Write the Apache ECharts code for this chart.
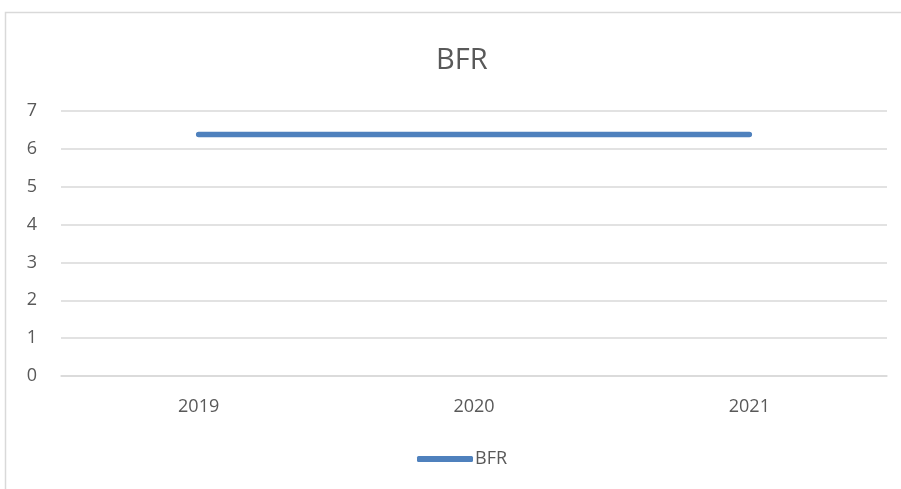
<!DOCTYPE html>
<html>
<head>
<meta charset="utf-8">
<script src="https://cdn.jsdelivr.net/npm/echarts@6/dist/echarts.min.js"></script>
<style>
  html, body { margin: 0; padding: 0; background: #fff; }
  #chart { width: 901px; height: 489px; }
</style>
</head>
<body>
<div id="chart"></div>
<script>
// Years on the category axis
const years = ['2019', '2020', '2021'];
// BFR value per year
const bfrValues = [6.38, 6.38, 6.38];
const seriesName = 'BFR';
const titleText = 'BFR';

const textColor = '#595959';
const gridColor = '#d9d9d9';
const lineColor = '#4f81bd';
const fontFamily = '"Open Sans", "Noto Sans", sans-serif';

const chart = echarts.init(document.getElementById('chart'), null, { renderer: 'canvas' });

chart.setOption({
  animation: false,
  backgroundColor: '#ffffff',
  title: {
    text: titleText,
    left: 431,
    top: 41,
    textStyle: { color: textColor, fontSize: 29, fontWeight: 'normal', fontFamily: fontFamily }
  },
  graphic: [{
    type: 'rect',
    shape: { x: 5.5, y: 12.5, width: 1200, height: 1200 },
    style: { fill: 'none', stroke: gridColor, lineWidth: 1.5 },
    silent: true,
    z: -1
  }],
  legend: {
    data: [seriesName],
    bottom: 16,
    left: 412,
    itemWidth: 56,
    itemHeight: 6,
    itemGap: 4,
    icon: 'roundRect',
    textStyle: { color: textColor, fontSize: 18, fontFamily: fontFamily, padding: [0, 0, 0, -3] }
  },
  grid: { left: 61, right: 14, top: 111, bottom: 113 },
  xAxis: {
    type: 'category',
    data: years,
    boundaryGap: true,
    axisLine: { show: true, lineStyle: { color: gridColor, width: 1.5 } },
    axisTick: { show: false },
    axisLabel: { color: textColor, fontSize: 18, fontFamily: fontFamily, margin: 22 }
  },
  yAxis: {
    type: 'value',
    min: 0,
    max: 7,
    interval: 1,
    axisLine: { show: false },
    axisTick: { show: false },
    splitLine: { lineStyle: { color: gridColor, width: 1.5 } },
    axisLabel: { color: textColor, fontSize: 18, fontFamily: fontFamily, margin: 24 }
  },
  series: [{
    name: seriesName,
    type: 'line',
    data: bfrValues,
    symbol: 'none',
    lineStyle: { color: lineColor, width: 5.5, cap: 'round' },
    itemStyle: { color: lineColor }
  }]
});
</script>
</body>
</html>
